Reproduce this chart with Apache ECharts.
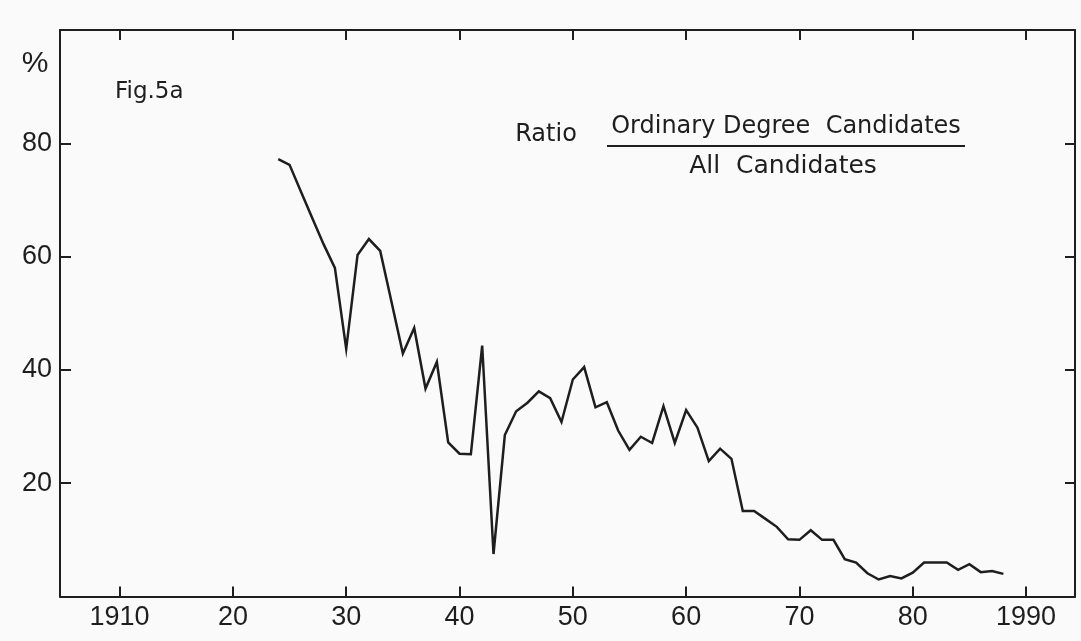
<!DOCTYPE html>
<html>
<head>
<meta charset="utf-8">
<script src="https://cdn.jsdelivr.net/npm/echarts@6/dist/echarts.min.js"></script>
<style>
  html, body { margin: 0; padding: 0; background: #fafafa; }
  #chart { width: 1081px; height: 641px; }
</style>
</head>
<body>
<div id="chart"></div>
<script>
const years = [
  1924, 1925, 1926, 1927, 1928, 1929, 1930, 1931, 1932, 1933,
  1934, 1935, 1936, 1937, 1938, 1939, 1940, 1941, 1942, 1943,
  1944, 1945, 1946, 1947, 1948, 1949, 1950, 1951, 1952, 1953,
  1954, 1955, 1956, 1957, 1958, 1959, 1960, 1961, 1962, 1963,
  1964, 1965, 1966, 1967, 1968, 1969, 1970, 1971, 1972, 1973,
  1974, 1975, 1976, 1977, 1978, 1979, 1980, 1981, 1982, 1983,
  1984, 1985, 1986, 1987, 1988
];
const ratioPct = [
  77.2, 76.2, 71.5, 66.8, 62.2, 58.0, 43.7, 60.3, 63.1, 61.0,
  52.0, 42.9, 47.4, 36.7, 41.4, 27.2, 25.2, 25.1, 44.3, 7.5,
  28.5, 32.7, 34.2, 36.2, 35.0, 30.8, 38.3, 40.5, 33.4, 34.3,
  29.3, 25.9, 28.2, 27.1, 33.6, 27.1, 32.9, 29.8, 23.9, 26.1,
  24.3, 15.1, 15.1, 13.7, 12.3, 10.1, 10.0, 11.7, 10.0, 10.0,
  6.6, 6.0, 4.1, 3.0, 3.6, 3.2, 4.2, 6.0, 6.0, 6.0,
  4.7, 5.7, 4.3, 4.5, 4.0
];
const xTickValues = [1910, 1920, 1930, 1940, 1950, 1960, 1970, 1980, 1990];
const xTickLabels = ['1910', '20', '30', '40', '50', '60', '70', '80', '1990'];
const yTickValues = [20, 40, 60, 80];
const yTickLabels = ['20', '40', '60', '80'];

const ink = '#1e1e1e';
const numFont = 'Liberation Sans';
const txtFont = 'DejaVu Sans';

const chart = echarts.init(document.getElementById('chart'), null, { renderer: 'canvas' });

const axisLine = { show: true, onZero: false, lineStyle: { color: ink, width: 2 } };
const tickStyle = { color: ink, width: 2 };

chart.setOption({
  animation: false,
  backgroundColor: '#fafafa',
  grid: { left: 60, right: 6, top: 30, bottom: 44.5 },
  xAxis: [
    {
      type: 'value', position: 'bottom',
      min: 1904.74, max: 1994.32,
      axisLine: axisLine,
      axisTick: { show: true, inside: true, length: 10, lineStyle: tickStyle, customValues: xTickValues },
      axisLabel: {
        show: true, customValues: xTickValues, margin: 8,
        color: ink, fontSize: 27, fontFamily: numFont,
        formatter: function (v) { const i = xTickValues.indexOf(Math.round(v)); return i >= 0 ? xTickLabels[i] : ''; }
      },
      splitLine: { show: false }
    },
    {
      type: 'value', position: 'top',
      min: 1904.74, max: 1994.32,
      axisLine: axisLine,
      axisTick: { show: true, inside: true, length: 10, lineStyle: tickStyle, customValues: xTickValues },
      axisLabel: { show: false },
      splitLine: { show: false }
    }
  ],
  yAxis: [
    {
      type: 'value', position: 'left',
      min: 0, max: 100,
      axisLine: axisLine,
      axisTick: { show: true, inside: true, length: 11, lineStyle: tickStyle, customValues: yTickValues },
      axisLabel: {
        show: true, customValues: yTickValues, margin: 8,
        color: ink, fontSize: 27, fontFamily: numFont,
        formatter: function (v) { const i = yTickValues.indexOf(Math.round(v)); return i >= 0 ? yTickLabels[i] : ''; }
      },
      splitLine: { show: false }
    },
    {
      type: 'value', position: 'right',
      min: 0, max: 100,
      axisLine: axisLine,
      axisTick: { show: true, inside: true, length: 10, lineStyle: tickStyle, customValues: yTickValues },
      axisLabel: { show: false },
      splitLine: { show: false }
    }
  ],
  series: [
    {
      type: 'line',
      xAxisIndex: 0, yAxisIndex: 0,
      data: years.map((y, i) => [y, ratioPct[i]]),
      showSymbol: false,
      symbol: 'none',
      lineStyle: { color: ink, width: 2.5, join: 'miter' },
      z: 5
    }
  ],
  graphic: [
    { type: 'text', x: 35, y: 64, style: { text: '%', fontSize: 30, fontFamily: numFont, fill: ink, textAlign: 'center', textVerticalAlign: 'middle' } },
    { type: 'text', x: 115, y: 92, style: { text: 'Fig.5a', fontSize: 23, fontFamily: txtFont, fill: ink, textAlign: 'left', textVerticalAlign: 'middle' } },
    { type: 'text', x: 546, y: 135, style: { text: 'Ratio', fontSize: 24, fontFamily: txtFont, fill: ink, textAlign: 'center', textVerticalAlign: 'middle' } },
    { type: 'text', x: 786, y: 127, style: { text: 'Ordinary Degree  Candidates', fontSize: 24, fontFamily: txtFont, fill: ink, textAlign: 'center', textVerticalAlign: 'middle' } },
    { type: 'line', shape: { x1: 607, y1: 146, x2: 965, y2: 146 }, style: { stroke: ink, lineWidth: 2 } },
    { type: 'text', x: 783, y: 166, style: { text: 'All  Candidates', fontSize: 25, fontFamily: txtFont, fill: ink, textAlign: 'center', textVerticalAlign: 'middle' } }
  ]
});
</script>
</body>
</html>
